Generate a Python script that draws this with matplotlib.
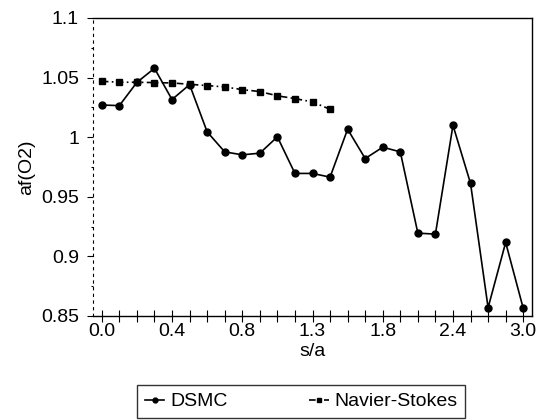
import matplotlib
matplotlib.use("Agg")
import matplotlib.pyplot as plt
import numpy as np

plt.rcParams['font.family'] = ['Liberation Sans', 'DejaVu Sans']

# Category axis (25 categories), labels shown every 4th
x_labels = ["0.0", "", "", "", "0.4", "", "", "", "0.8", "", "", "", "1.3",
            "", "", "", "1.8", "", "", "", "2.4", "", "", "", "3.0"]

dsmc = [1.027, 1.0265, 1.046, 1.0578, 1.0316, 1.0441, 1.0045, 0.9877, 0.9852,
        0.9866, 1.0003, 0.9696, 0.9696, 0.9665, 1.0067, 0.9821, 0.9916, 0.9877,
        0.9195, 0.9187, 1.0100, 0.9612, 0.857, 0.9117, 0.8565]

navier_stokes = [1.0469, 1.0461, 1.0461, 1.0458, 1.0455, 1.0444, 1.0433,
                 1.0422, 1.0399, 1.0383, 1.0347, 1.0324, 1.0296, 1.0234]

fig = plt.figure(figsize=(5.38, 4.2), dpi=100)
ax = fig.add_axes([93/538, 1-316/420, (532-93)/538, (316-18)/420])

xd = np.arange(len(dsmc))
xn = np.arange(len(navier_stokes))
l1, = ax.plot(xd, dsmc, '-', color='black', lw=1.2, marker='o', ms=5,
              label='DSMC')
l2, = ax.plot(xn, navier_stokes, linestyle=(0, (4, 2, 1, 2)), color='black',
              lw=1.2, marker='s', ms=4.5, label='Navier-Stokes')

ax.set_xlim(-0.5, len(x_labels) - 0.5)
ax.set_ylim(0.85, 1.1)
ax.set_xticks(np.arange(len(x_labels)))
ax.set_xticklabels(x_labels, fontsize=14)
ax.tick_params(axis='x', direction='inout', length=8, width=0.8, pad=1)
ax.set_yticks([0.85, 0.9, 0.95, 1.0, 1.05, 1.1])
ax.set_yticklabels(["0.85", "0.9", "0.95", "1", "1.05", "1.1"], fontsize=14)
ax.set_yticks([0.875, 0.925, 0.975, 1.025, 1.075], minor=True)
ax.tick_params(axis='y', which='major', direction='out', length=4, width=0.8, pad=6)
ax.tick_params(axis='y', which='minor', direction='out', length=1.5, width=0.8)

for s in ['top', 'right', 'bottom']:
    ax.spines[s].set_linewidth(1.0)
ax.spines['left'].set_linewidth(0.8)
ax.spines['left'].set_linestyle((0, (2, 4)))

ax.set_xlabel('s/a', fontsize=14, labelpad=2)
ax.set_ylabel('af(O2)', fontsize=14, labelpad=4)

leg = fig.legend(handles=[l1, l2], loc='upper left',
                 bbox_to_anchor=(137/538, 1-385/420), ncol=2, fontsize=14,
                 frameon=True, fancybox=False, edgecolor='black',
                 handlelength=1.0, handletextpad=0.3, columnspacing=4.2,
                 borderpad=0.4, borderaxespad=0)
leg.get_frame().set_linewidth(1.0)
for h in leg.legend_handles:
    h.set_markersize(3.5)

fig.savefig('out.png', dpi=100)
